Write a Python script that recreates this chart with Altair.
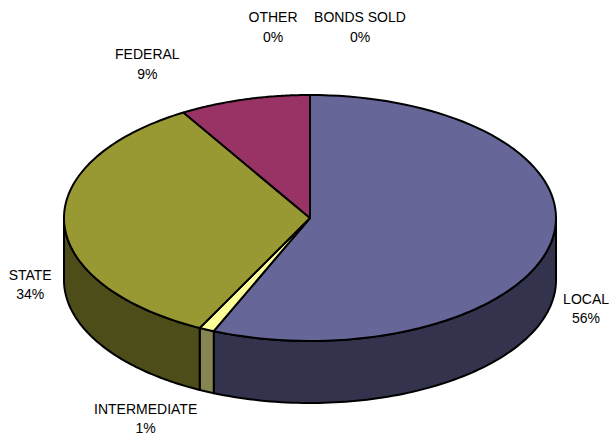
import altair as alt
import pandas as pd

# ---- data ----
categories = ["LOCAL", "INTERMEDIATE", "STATE", "FEDERAL", "OTHER", "BONDS SOLD"]
shares = [56.4, 1.0, 34.0, 8.6, 0.0, 0.0]
pct_labels = ["56%", "1%", "34%", "9%", "0%", "0%"]

# ---- styles / layout ----
TOP_COLORS = ["#666699", "#FFFF99", "#999933", "#993366", "#FFFFFF", "#FFFFFF"]
SIDE_COLORS = ["#33334D", "#858552", "#4D4D1A", "#4D1A33", "#808080", "#808080"]
W, H = 612, 437
CX, CY, RX, RY, DEPTH = 310, 218, 246, 123, 62
N = 90
LABEL_NUDGE = {
    "LOCAL": (35, 61),
    "INTERMEDIATE": (-61, 84),
    "STATE": (-34, 57),
    "FEDERAL": (-97, -40),
    "OTHER": (-37, -73),
    "BONDS SOLD": (50, -73),
}
FONT = "Liberation Sans"

df = pd.DataFrame({"cat": categories, "value": shares, "pct": pct_labels})
df["end"] = df["value"].cumsum()
df["start"] = df["end"] - df["value"]
df["nx"] = [LABEL_NUDGE[c][0] for c in categories]
df["ny"] = [LABEL_NUDGE[c][1] for c in categories]

xs = alt.X("px:Q", scale=alt.Scale(domain=[0, W], nice=False, zero=False), axis=None)
ys = alt.Y("py:Q", scale=alt.Scale(domain=[0, H], reverse=True, nice=False, zero=False), axis=None)

# side walls (front half only)
walls = (
    alt.Chart(df)
    .transform_calculate(
        w0="max(2 * PI * datum.start / 100, PI / 2)",
        w1="min(2 * PI * datum.end / 100, 3 * PI / 2)",
    )
    .transform_filter("datum.w1 > datum.w0")
    .transform_calculate(k=f"sequence(0, {2 * N + 3})")
    .transform_flatten(["k"])
    .transform_calculate(
        frac=f"datum.k <= {N} ? datum.k / {N} : (datum.k <= {2 * N + 1} ? ({2 * N + 1} - datum.k) / {N} : 0)",
        low=f"(datum.k > {N} && datum.k <= {2 * N + 1}) ? 1 : 0",
    )
    .transform_calculate(t="datum.w0 + (datum.w1 - datum.w0) * datum.frac")
    .transform_calculate(
        px=f"{CX} + {RX} * sin(datum.t)",
        py=f"{CY} - {RY} * cos(datum.t) + {DEPTH} * datum.low",
    )
    .mark_line(stroke="black", strokeWidth=2, strokeJoin="round")
    .encode(
        x=xs,
        y=ys,
        order=alt.Order("k:Q"),
        detail="cat:N",
        fill=alt.Fill("cat:N", scale=alt.Scale(domain=categories, range=SIDE_COLORS), legend=None),
    )
)

# top faces
top = (
    alt.Chart(df)
    .transform_filter("datum.value > 0")
    .transform_calculate(k=f"sequence(0, {N + 3})")
    .transform_flatten(["k"])
    .transform_calculate(
        frac=f"datum.k <= {N} ? datum.k / {N} : 0",
        ctr=f"datum.k == {N + 1} ? 1 : 0",
    )
    .transform_calculate(t="2 * PI * (datum.start + (datum.end - datum.start) * datum.frac) / 100")
    .transform_calculate(
        px=f"{CX} + (1 - datum.ctr) * {RX} * sin(datum.t)",
        py=f"{CY} - (1 - datum.ctr) * {RY} * cos(datum.t)",
    )
    .mark_line(stroke="black", strokeWidth=2, strokeJoin="round")
    .encode(
        x=xs,
        y=ys,
        order=alt.Order("k:Q"),
        detail="cat:N",
        fill=alt.Fill("cat:N", scale=alt.Scale(domain=categories, range=TOP_COLORS), legend=None),
    )
)

# labels
labels = (
    alt.Chart(df)
    .transform_calculate(m="2 * PI * (datum.start + datum.end) / 200")
    .transform_calculate(
        px=f"{CX} + {RX} * sin(datum.m) + datum.nx",
        py=f"{CY} - {RY} * cos(datum.m) + datum.ny",
        label="datum.cat + '\\n' + datum.pct",
    )
    .mark_text(
        font=FONT, fontSize=14, color="black", align="center", baseline="alphabetic",
        lineBreak="\n", lineHeight=19.5,
    )
    .encode(x=xs, y=ys, text="label:N")
)

chart = (
    alt.layer(walls, top, labels)
    .resolve_scale(fill="independent")
    .properties(width=W, height=H, autosize=alt.AutoSizeParams(type="none"), padding=0, background="white")
    .configure_view(stroke=None)
)

chart.save("out.html", embed_options={"renderer": "svg", "actions": False})
